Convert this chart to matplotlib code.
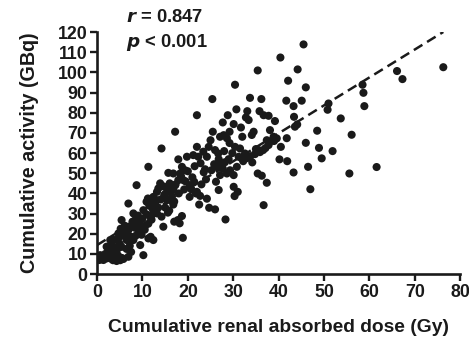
import numpy as np
import matplotlib
matplotlib.use("Agg")
import matplotlib.pyplot as plt

# cumulative renal absorbed dose (Gy) and cumulative activity (GBq) per patient
dose = [
    76.3, 66.1, 67.3, 61.6, 58.5, 58.7, 58.9, 53.7, 56.1, 51.9, 55.6, 50.8, 51.0,
    48.5, 48.9, 49.5, 46.0, 46.5, 47.0, 45.5, 40.4, 35.4, 44.2, 30.4, 46.0, 42.1,
    25.4, 33.7, 36.2, 41.7, 45.1, 43.3, 30.7, 33.1, 35.8, 22.0, 28.8, 36.7, 37.8,
    43.4, 32.8, 31.7, 30.1, 17.2, 25.5, 27.7, 39.2, 43.6, 44.1, 41.8, 40.5, 41.9,
    40.2, 43.3, 36.7, 37.4, 35.4, 36.3, 34.2, 35.6, 36.6, 37.4, 38.1, 38.9, 39.6,
    33.4, 34.5, 34.1, 32.0, 30.4, 31.5, 32.6, 31.2, 30.8, 30.1, 30.1, 31.0, 30.3,
    28.3, 27.7, 28.6, 29.3, 27.1, 26.2, 26.8, 26.0, 24.7, 24.2, 22.5, 22.7, 22.0,
    20.4, 20.4, 21.4, 18.9, 18.7, 17.8, 17.0, 18.2, 24.2, 24.6, 25.0, 26.0, 26.7,
    27.1, 27.9, 28.6, 29.2, 29.2, 23.4, 22.0, 21.2, 22.3, 19.8, 17.9, 18.7, 18.3,
    19.4, 19.0, 17.9, 16.8, 15.7, 14.2, 11.3, 8.7,
    34.8, 35.9, 37.1, 38.0, 33.0, 32.2, 28.0, 29.0, 27.3, 26.5, 25.8, 23.8, 21.0,
    20.8, 21.8, 23.0, 24.0, 25.2, 19.5, 20.0, 18.5, 17.2, 16.0, 15.2, 14.8, 13.5,
    12.2, 12.8, 22.8, 21.5, 23.5, 26.8, 28.2, 29.8, 31.8, 33.8, 35.0, 37.8, 39.0,
    0.7, 1.4, 1.4, 2.1, 2.9, 3.5, 4.0, 4.3, 5.1, 5.5, 6.9, 2.5, 3.2, 4.6, 1.0, 1.8,
    3.8, 5.8, 0.5, 2.1, 2.9, 3.2, 3.9, 4.5, 3.6, 4.3, 5.0, 5.4, 4.7, 5.2, 5.4, 6.1,
    6.5, 6.0, 6.9, 6.9, 7.5, 7.2, 8.0, 8.5, 9.5, 10.2, 9.1, 8.0, 8.6, 8.7, 9.5,
    10.0, 10.2, 10.9, 10.9, 11.5, 10.5, 11.3, 12.4, 11.8, 11.3, 12.0, 12.4, 12.4,
    13.2, 13.5, 13.2, 13.9, 14.6, 14.0, 14.6, 15.4, 15.0, 15.5, 16.2, 16.8, 16.5,
    16.8, 15.9, 17.0, 18.0, 19.2, 7.5, 6.5, 2.5, 8.3, 9.8, 7.8, 12.8, 14.2, 15.6,
    17.3, 11.2, 12.0, 3.0, 4.8, 6.2, 7.0, 9.0, 10.6, 11.8, 13.0, 14.9, 16.3,
]
activity = [
    102.6, 100.7, 96.7, 53.1, 93.9, 89.9, 83.3, 77.2, 69.1, 61.0, 49.9, 81.5, 84.6,
    71.1, 62.6, 57.4, 65.1, 53.2, 42.1, 113.9, 107.4, 101.0, 101.5, 93.9, 92.6, 95.9,
    86.8, 87.4, 86.8, 86.0, 86.0, 83.3, 81.7, 80.8, 80.8, 78.8, 78.8, 78.8, 78.5,
    78.0, 77.7, 72.7, 74.4, 70.6, 70.6, 75.2, 75.9, 73.1, 74.2, 67.4, 63.1, 56.0,
    56.9, 50.4, 34.2, 45.3, 49.9, 48.8, 55.4, 61.5, 61.5, 66.4, 71.4, 68.1, 67.3,
    76.4, 70.6, 69.0, 68.1, 63.1, 62.3, 59.8, 58.2, 53.2, 49.1, 43.3, 40.8, 38.7,
    27.1, 52.4, 49.9, 51.5, 49.1, 45.8, 41.7, 32.1, 32.9, 37.4, 34.5, 38.8, 40.8,
    38.3, 44.1, 45.8, 18.0, 28.8, 26.8, 26.0, 25.2, 58.2, 63.1, 66.4, 61.5, 59.8,
    68.1, 68.9, 67.4, 65.0, 70.6, 60.7, 63.1, 59.0, 58.2, 58.2, 56.9, 53.2, 49.9,
    51.5, 46.6, 46.6, 49.9, 50.2, 62.3, 53.2, 44.1,
    59.5, 60.5, 62.5, 65.5, 57.5, 56.0, 61.0, 57.0, 55.0, 53.0, 54.5, 52.0, 48.0,
    42.0, 40.0, 44.5, 47.0, 51.5, 46.0, 51.0, 48.5, 44.0, 45.0, 43.0, 39.0, 42.5,
    32.5, 37.0, 55.0, 53.5, 50.5, 57.0, 55.5, 60.0, 57.5, 58.5, 62.0, 64.0, 66.0,
    9.4, 8.6, 7.0, 7.8, 7.8, 6.9, 7.8, 6.5, 6.9, 8.0, 8.6, 9.5, 9.0, 9.3, 8.0, 10.0,
    10.5, 7.5, 7.0, 13.6, 16.9, 14.5, 13.0, 12.5, 17.0, 16.9, 15.0, 13.5, 20.2, 22.5,
    26.8, 24.0, 16.9, 19.0, 21.8, 35.0, 18.5, 14.0, 16.9, 19.0, 14.4, 9.4, 21.8,
    30.1, 28.5, 26.0, 24.5, 27.5, 31.7, 29.6, 35.9, 34.0, 22.0, 17.7, 16.9, 18.5,
    25.0, 27.0, 30.0, 38.3, 30.1, 33.0, 40.8, 45.0, 43.5, 37.0, 23.5, 36.7, 33.0,
    41.0, 42.0, 41.7, 38.5, 34.5, 31.5, 36.0, 40.0, 42.0, 11.0, 12.5, 11.5, 23.0,
    19.5, 26.0, 35.5, 28.5, 30.5, 44.5, 37.5, 36.0, 12.0, 18.0, 20.5, 23.5, 29.0,
    24.0, 28.0, 33.5, 39.5, 36.5,
]

# linear regression line reported with r = 0.847
fit_intercept = 14.4
fit_slope = 1.385

plt.rcParams["font.family"] = ["Liberation Sans", "DejaVu Sans"]
plt.rcParams["font.weight"] = "bold"

fig = plt.figure(figsize=(4.69, 3.38), dpi=100)
ax = fig.add_axes([0.207, 0.189, 0.774, 0.716])

ax.scatter(dose, activity, s=34, color="#1a1a1a", edgecolors="none", zorder=3)

xfit = np.array([0, max(dose)])
ax.plot(xfit, fit_intercept + fit_slope * xfit, color="#1a1a1a", linestyle=(0, (4, 2.2)),
        linewidth=1.8, zorder=2)

ax.set_xlim(0, 80)
ax.set_ylim(0, 120)
ax.set_xticks(range(0, 81, 10))
ax.set_yticks(range(0, 121, 10))
ax.spines["top"].set_visible(False)
ax.spines["right"].set_visible(False)
for side in ["left", "bottom"]:
    ax.spines[side].set_linewidth(1.9)
    ax.spines[side].set_color("#1a1a1a")
ax.tick_params(axis="both", direction="out", length=5, width=1.7, color="#1a1a1a",
               labelsize=12.8, pad=2, labelcolor="#1a1a1a")
for lab in ax.get_xticklabels() + ax.get_yticklabels():
    lab.set_fontweight("bold")

ax.set_xlabel("Cumulative renal absorbed dose (Gy)", fontsize=13.9, fontweight="bold",
              color="#1a1a1a", labelpad=13)
ax.set_ylabel("Cumulative activity (GBq)", fontsize=14.2, fontweight="bold",
              color="#1a1a1a", labelpad=13)

ax.text(6.3, 127, r"$\mathbfit{r}$ = 0.847", fontsize=13.2, fontweight="bold",
        color="#1a1a1a", va="center", clip_on=False)
ax.text(6.3, 114.8, r"$\mathbfit{p}$ < 0.001", fontsize=13.2, fontweight="bold",
        color="#1a1a1a", va="center", clip_on=False)

fig.savefig("out.png", dpi=100)
